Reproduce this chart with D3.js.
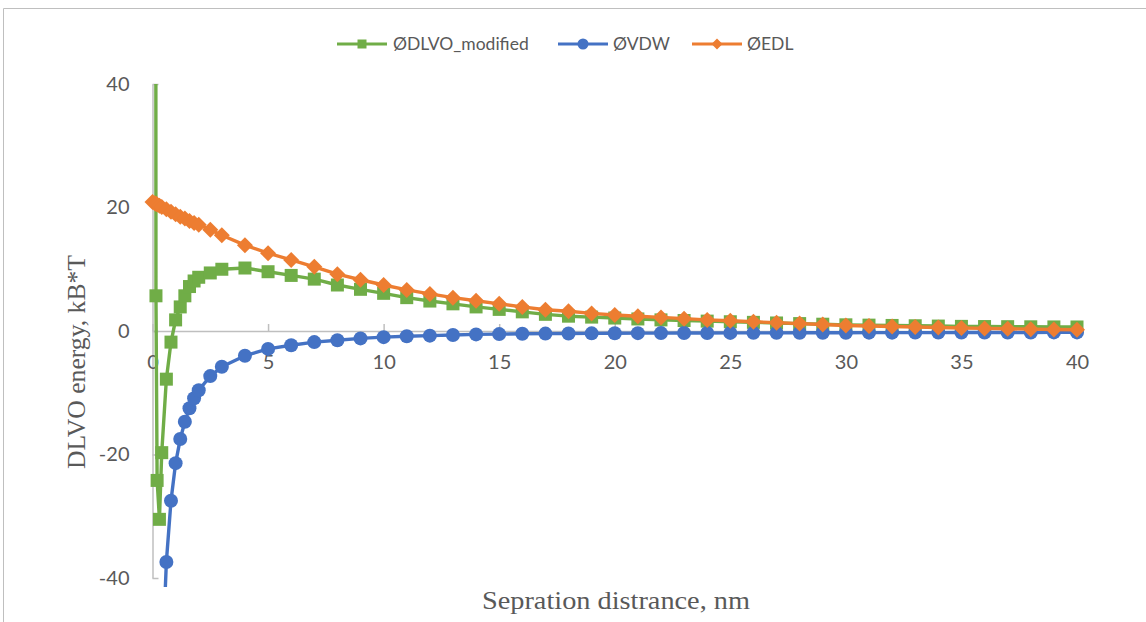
<!DOCTYPE html>
<html>
<head>
<meta charset="utf-8">
<script src="https://cdn.jsdelivr.net/npm/d3@7"></script>
<style>
html,body{margin:0;padding:0;background:#fff;}
svg{display:block;}
</style>
</head>
<body>
<svg id="chart" width="1146" height="622"></svg>
<script>
// ---- data ----
const seriesNames = ["ØDLVO_modified", "ØVDW", "ØEDL"];
const xTickValues = [0, 5, 10, 15, 20, 25, 30, 35, 40];
const yTickValues = [-40, -20, 0, 20, 40];

const dlvoX = [0.1, 0.15, 0.2, 0.3, 0.4, 0.6, 0.8, 1.0, 1.2, 1.4, 1.6, 1.8, 2.0, 2.5,
  3, 4, 5, 6, 7, 8, 9, 10, 11, 12, 13, 14, 15, 16, 17, 18, 19, 20, 21, 22, 23, 24, 25,
  26, 27, 28, 29, 30, 31, 32, 33, 34, 35, 36, 37, 38, 39, 40];
const dlvoY = [400, 5.7, -24.2, -30.5, -19.7, -7.8, -1.8, 1.8, 3.9, 5.7, 7.2, 8.1, 8.7, 9.4,
  10.0, 10.2, 9.6, 9.0, 8.4, 7.45, 6.75, 6.1, 5.4, 4.85, 4.4, 3.9, 3.5, 3.1, 2.7, 2.4, 2.25, 2.1,
  1.95, 1.8, 1.7, 1.6, 1.5, 1.4, 1.3, 1.2, 1.1, 1.0, 0.95, 0.9, 0.85, 0.8, 0.75, 0.72, 0.7, 0.68,
  0.66, 0.65];

const vdwX = [0.4, 0.6, 0.8, 1.0, 1.2, 1.4, 1.6, 1.8, 2.0, 2.5,
  3, 4, 5, 6, 7, 8, 9, 10, 11, 12, 13, 14, 15, 16, 17, 18, 19, 20, 21, 22, 23, 24, 25,
  26, 27, 28, 29, 30, 31, 32, 33, 34, 35, 36, 37, 38, 39, 40];
const vdwY = [-56, -37.4, -27.5, -21.4, -17.5, -14.7, -12.5, -10.9, -9.6, -7.3,
  -5.8, -4.0, -2.9, -2.3, -1.8, -1.5, -1.2, -1.0, -0.85, -0.75, -0.65, -0.55, -0.5, -0.45,
  -0.42, -0.4, -0.38, -0.36, -0.35, -0.34, -0.33, -0.32, -0.31, -0.3, -0.3, -0.29, -0.28,
  -0.28, -0.27, -0.27, -0.26, -0.26, -0.25, -0.25, -0.24, -0.24, -0.23, -0.23];

const edlX = [0, 0.1, 0.15, 0.2, 0.3, 0.4, 0.6, 0.8, 1.0, 1.2, 1.4, 1.6, 1.8, 2.0, 2.5,
  3, 4, 5, 6, 7, 8, 9, 10, 11, 12, 13, 14, 15, 16, 17, 18, 19, 20, 21, 22, 23, 24, 25,
  26, 27, 28, 29, 30, 31, 32, 33, 34, 35, 36, 37, 38, 39, 40];
const edlY = [20.9, 20.7, 20.6, 20.5, 20.3, 20.1, 19.7, 19.3, 18.9, 18.5, 18.2, 17.8, 17.5, 17.2, 16.4,
  15.5, 13.9, 12.6, 11.5, 10.4, 9.2, 8.3, 7.45, 6.65, 6.0, 5.4, 4.9, 4.4, 3.9, 3.45, 3.2, 2.85,
  2.6, 2.4, 2.2, 2.0, 1.8, 1.67, 1.5, 1.35, 1.2, 1.05, 0.9, 0.8, 0.72, 0.64, 0.56, 0.48, 0.42,
  0.36, 0.3, 0.24, 0.2];

const colors = ["#70AD47", "#4472C4", "#ED7D31"];
const markers = ["square", "circle", "diamond"];

// ---- layout ----
const svg = d3.select("#chart");
const plot = {left: 152.5, right: 1077, top: 84, bottom: 578};
const x = d3.scaleLinear().domain([0, 40]).range([plot.left, plot.right]);
const y = d3.scaleLinear().domain([-40, 40]).range([plot.bottom, plot.top]);

// chart border (top and left)
svg.append("path").attr("d", "M3.5,622 L3.5,8.5 L1146,8.5")
  .attr("fill", "none").attr("stroke", "#BFBFBF").attr("stroke-width", 1);

const axisColor = "#BFBFBF";
const tickFont = "Lato, 'Open Sans', sans-serif";
const fmt = d => String(d);

// y axis
const yAxis = svg.append("g").attr("transform", `translate(${plot.left},0)`)
  .call(d3.axisLeft(y).tickValues(yTickValues).tickSizeInner(-6).tickSizeOuter(0).tickPadding(23)
    .tickFormat(fmt));
yAxis.select(".domain").attr("stroke", axisColor).attr("stroke-width", 1.5);
yAxis.selectAll(".tick line").attr("stroke", axisColor).attr("stroke-width", 1.5);
yAxis.selectAll(".tick text").attr("fill", "#595959").style("font-family", tickFont).style("font-size", "20px");

// x axis at y=0
const xAxis = svg.append("g").attr("transform", `translate(0,${y(0)})`)
  .call(d3.axisBottom(x).tickValues(xTickValues).tickSizeInner(-7).tickSizeOuter(0).tickPadding(24)
    .tickFormat(fmt));
xAxis.select(".domain").attr("stroke", axisColor).attr("stroke-width", 1.5);
xAxis.selectAll(".tick line").attr("stroke", axisColor).attr("stroke-width", 1.5);
xAxis.selectAll(".tick text").attr("fill", "#595959").style("font-family", tickFont).style("font-size", "20px");

// clip
svg.append("defs").append("clipPath").attr("id", "clip")
  .append("rect").attr("x", 140).attr("y", plot.top).attr("width", 960).attr("height", 587 - plot.top);

function markerPath(type, s) {
  if (type === "square") return `M${-s},${-s}h${2*s}v${2*s}h${-2*s}Z`;
  if (type === "diamond") return `M0,${-s}L${s},0L0,${s}L${-s},0Z`;
  return d3.symbol(d3.symbolCircle, Math.PI * s * s)();
}

const seriesData = [
  dlvoX.map((v, i) => [v, dlvoY[i]]),
  vdwX.map((v, i) => [v, vdwY[i]]),
  edlX.map((v, i) => [v, edlY[i]])
];
const markerSize = [6.5, 7, 8];

const line = d3.line().x(d => x(d[0])).y(d => y(d[1]));
const gSeries = svg.append("g").attr("clip-path", "url(#clip)");
seriesData.forEach((data, k) => {
  const g = gSeries.append("g");
  g.append("path").datum(data).attr("d", line)
    .attr("fill", "none").attr("stroke", colors[k]).attr("stroke-width", 3.4)
    .attr("stroke-linejoin", "round");
  g.selectAll("path.m").data(data.filter(d => d[1] >= -40 && d[1] <= 40)).enter()
    .append("path").attr("class", "m")
    .attr("transform", d => `translate(${x(d[0])},${y(d[1])})`)
    .attr("d", markerPath(markers[k], markerSize[k]))
    .attr("fill", colors[k]);
});

// legend
const legendItems = [
  {x0: 337, tx: 393},
  {x0: 558, tx: 613},
  {x0: 692, tx: 747}
];
const legendMarker = [4.5, 5.5, 5.5];
const lg = svg.append("g");
legendItems.forEach((it, k) => {
  lg.append("line").attr("x1", it.x0).attr("x2", it.x0 + 50).attr("y1", 44).attr("y2", 44)
    .attr("stroke", colors[k]).attr("stroke-width", 3.2);
  lg.append("path").attr("transform", `translate(${it.x0 + 25},44)`)
    .attr("d", markerPath(markers[k], legendMarker[k])).attr("fill", colors[k]);
  lg.append("text").attr("x", it.tx).attr("y", 44).attr("dy", "0.35em")
    .attr("fill", "#595959").style("font-family", tickFont).style("font-size", "17.5px")
    .text(seriesNames[k]);
});

// axis titles
svg.append("text").attr("x", 616).attr("y", 609).attr("text-anchor", "middle")
  .attr("fill", "#595959").style("font-family", "'Liberation Serif', 'DejaVu Serif', serif")
  .style("font-size", "26px").attr("textLength", 268).attr("lengthAdjust", "spacingAndGlyphs")
  .text("Sepration distrance, nm");
svg.append("text").attr("transform", "translate(85,362) rotate(-90)").attr("text-anchor", "middle")
  .attr("fill", "#595959").style("font-family", "'Liberation Serif', 'DejaVu Serif', serif")
  .style("font-size", "26px").attr("textLength", 214).attr("lengthAdjust", "spacingAndGlyphs")
  .text("DLVO energy, kB*T");
</script>
</body>
</html>
